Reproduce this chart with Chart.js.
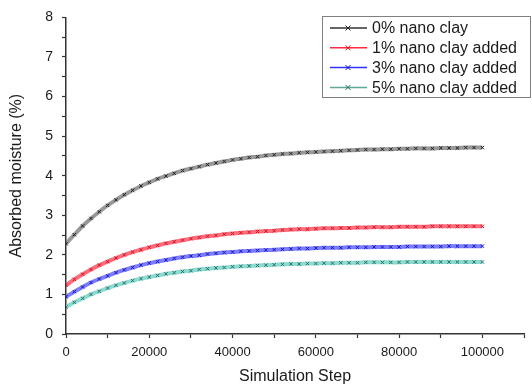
<!DOCTYPE html>
<html>
<head>
<meta charset="utf-8">
<script src="https://cdn.jsdelivr.net/npm/chart.js@4/dist/chart.umd.min.js"></script>
<style>
  html, body { margin: 0; padding: 0; background: #fff; }
  #wrap { width: 532px; height: 387px; }
</style>
</head>
<body>
<div id="wrap"><canvas id="moistureChart" width="532" height="387"></canvas></div>
<script>
// simulation steps (x)
const steps = [
  0, 2000, 4000, 6000, 8000, 10000, 12000, 14000, 16000, 18000,
  20000, 22000, 24000, 26000, 28000, 30000, 32000, 34000, 36000, 38000,
  40000, 42000, 44000, 46000, 48000, 50000, 52000, 54000, 56000, 58000,
  60000, 62000, 64000, 66000, 68000, 70000, 72000, 74000, 76000, 78000,
  80000, 82000, 84000, 86000, 88000, 90000, 92000, 94000, 96000, 98000,
  100000
];

const seriesLabels = ['0% nano clay', '1% nano clay added', '3% nano clay added', '5% nano clay added'];

// absorbed moisture (%)
const clay0 = [
  2.28, 2.51, 2.73, 2.92, 3.09, 3.25, 3.39, 3.52, 3.63, 3.74,
  3.83, 3.92, 3.99, 4.06, 4.13, 4.18, 4.23, 4.28, 4.32, 4.36,
  4.40, 4.43, 4.46, 4.48, 4.51, 4.53, 4.55, 4.56, 4.58, 4.59,
  4.60, 4.61, 4.62, 4.63, 4.64, 4.65, 4.66, 4.66, 4.67, 4.67,
  4.68, 4.68, 4.69, 4.69, 4.69, 4.70, 4.70, 4.70, 4.71, 4.71,
  4.71
];
const clay1 = [
  1.23, 1.38, 1.51, 1.63, 1.74, 1.83, 1.92, 2.00, 2.07, 2.13,
  2.19, 2.24, 2.29, 2.33, 2.37, 2.41, 2.44, 2.47, 2.49, 2.52,
  2.54, 2.56, 2.57, 2.59, 2.60, 2.61, 2.63, 2.64, 2.65, 2.65,
  2.66, 2.67, 2.67, 2.68, 2.68, 2.69, 2.69, 2.70, 2.70, 2.70,
  2.71, 2.71, 2.71, 2.71, 2.72, 2.72, 2.72, 2.72, 2.72, 2.72,
  2.72
];
const clay3 = [
  0.94, 1.07, 1.19, 1.30, 1.39, 1.47, 1.55, 1.62, 1.68, 1.74,
  1.79, 1.83, 1.87, 1.91, 1.94, 1.97, 1.99, 2.02, 2.04, 2.06,
  2.07, 2.09, 2.10, 2.11, 2.12, 2.13, 2.14, 2.15, 2.16, 2.16,
  2.17, 2.18, 2.18, 2.18, 2.19, 2.19, 2.19, 2.20, 2.20, 2.20,
  2.20, 2.21, 2.21, 2.21, 2.21, 2.21, 2.22, 2.22, 2.22, 2.22,
  2.22
];
const clay5 = [
  0.68, 0.80, 0.90, 1.00, 1.08, 1.16, 1.23, 1.29, 1.35, 1.40,
  1.44, 1.48, 1.52, 1.55, 1.58, 1.60, 1.63, 1.65, 1.67, 1.68,
  1.70, 1.71, 1.72, 1.73, 1.74, 1.75, 1.76, 1.77, 1.77, 1.78,
  1.78, 1.79, 1.79, 1.80, 1.80, 1.80, 1.81, 1.81, 1.81, 1.81,
  1.81, 1.82, 1.82, 1.82, 1.82, 1.82, 1.82, 1.82, 1.82, 1.82,
  1.82
];

const FONT = 'Arial, "Liberation Sans", sans-serif';
const TEXT = '#1a1a1a';

// line (halo) colour and marker colour per series
const lineColors = ['rgba(110, 110, 110, 0.7)', 'rgba(255, 60, 80, 0.75)', 'rgba(80, 80, 255, 0.75)', 'rgba(110, 210, 200, 0.8)'];
const markColors = ['#222222', '#d81020', '#1414c8', '#2e6e60'];
const legendColors = ['#333333', '#ff2a40', '#3030ff', '#5fa898'];

function makeSeries(values, i) {
    return {
        label: seriesLabels[i],
        data: steps.map((s, k) => ({ x: s, y: values[k] })),
        borderColor: lineColors[i],
        borderWidth: 4,
        pointStyle: 'crossRot',
        pointRadius: 2.4,
        pointBorderWidth: 1,
        pointBorderColor: markColors[i],
        pointBackgroundColor: markColors[i],
        pointHoverRadius: 2.4,
        tension: 0.3,
        fill: false
    };
}

// boxed legend in the upper right corner
const boxLegend = {
    id: 'boxLegend',
    afterDraw(chart) {
        const ctx = chart.ctx;
        ctx.save();
        ctx.strokeStyle = '#808080';
        ctx.lineWidth = 1;
        ctx.strokeRect(322.5, 16.5, 208, 81);
        ctx.font = '16px ' + FONT;
        ctx.textBaseline = 'middle';
        ctx.textAlign = 'left';
        chart.data.datasets.forEach((ds, i) => {
            const y = 28 + i * 19.8;
            ctx.strokeStyle = legendColors[i];
            ctx.lineWidth = 1.5;
            ctx.beginPath();
            ctx.moveTo(330, y);
            ctx.lineTo(367, y);
            ctx.stroke();
            ctx.strokeStyle = markColors[i];
            ctx.lineWidth = 1;
            ctx.beginPath();
            ctx.moveTo(345.5, y - 2.5);
            ctx.lineTo(350.5, y + 2.5);
            ctx.moveTo(345.5, y + 2.5);
            ctx.lineTo(350.5, y - 2.5);
            ctx.stroke();
            ctx.fillStyle = TEXT;
            ctx.fillText(ds.label, 372, y + 1);
        });
        ctx.restore();
    }
};

const ctx = document.getElementById('moistureChart').getContext('2d');
new Chart(ctx, {
    type: 'line',
    data: {
        datasets: [makeSeries(clay0, 0), makeSeries(clay1, 1), makeSeries(clay3, 2), makeSeries(clay5, 3)]
    },
    options: {
        responsive: false,
        animation: false,
        devicePixelRatio: 1,
        layout: { padding: { left: 0, top: 15, right: 8, bottom: 0 } },
        scales: {
            x: {
                type: 'linear',
                min: 0,
                max: 110000,
                afterFit: (scale) => { scale.height = 53; },
                grid: { display: true, drawOnChartArea: false, tickLength: 4, color: '#333', tickWidth: 1.2 },
                border: { display: true, color: '#333', width: 1.5 },
                ticks: {
                    stepSize: 10000,
                    autoSkip: false,
                    maxRotation: 0,
                    padding: 7,
                    color: TEXT,
                    font: { family: FONT, size: 13 },
                    callback: (v) => (v % 20000 === 0 && v <= 100000 ? v : '')
                },
                title: {
                    display: true,
                    text: 'Simulation Step',
                    color: TEXT,
                    font: { family: FONT, size: 16 },
                    padding: { top: 0, bottom: 1 }
                }
            },
            y: {
                min: 0,
                max: 8,
                afterFit: (scale) => { scale.width = 66; },
                grid: { display: true, drawOnChartArea: false, tickLength: 4, color: '#333', tickWidth: 1.2 },
                border: { display: true, color: '#333', width: 1.5 },
                ticks: {
                    stepSize: 0.5,
                    autoSkip: false,
                    padding: 9,
                    color: TEXT,
                    font: { family: FONT, size: 14 },
                    callback: (v) => (Number.isInteger(v) ? v : '')
                },
                title: {
                    display: true,
                    text: 'Absorbed moisture (%)',
                    color: TEXT,
                    font: { family: FONT, size: 16 },
                    padding: { top: 7, bottom: 0 }
                }
            }
        },
        plugins: {
            legend: { display: false },
            tooltip: { enabled: false }
        }
    },
    plugins: [boxLegend]
});
</script>
</body>
</html>
